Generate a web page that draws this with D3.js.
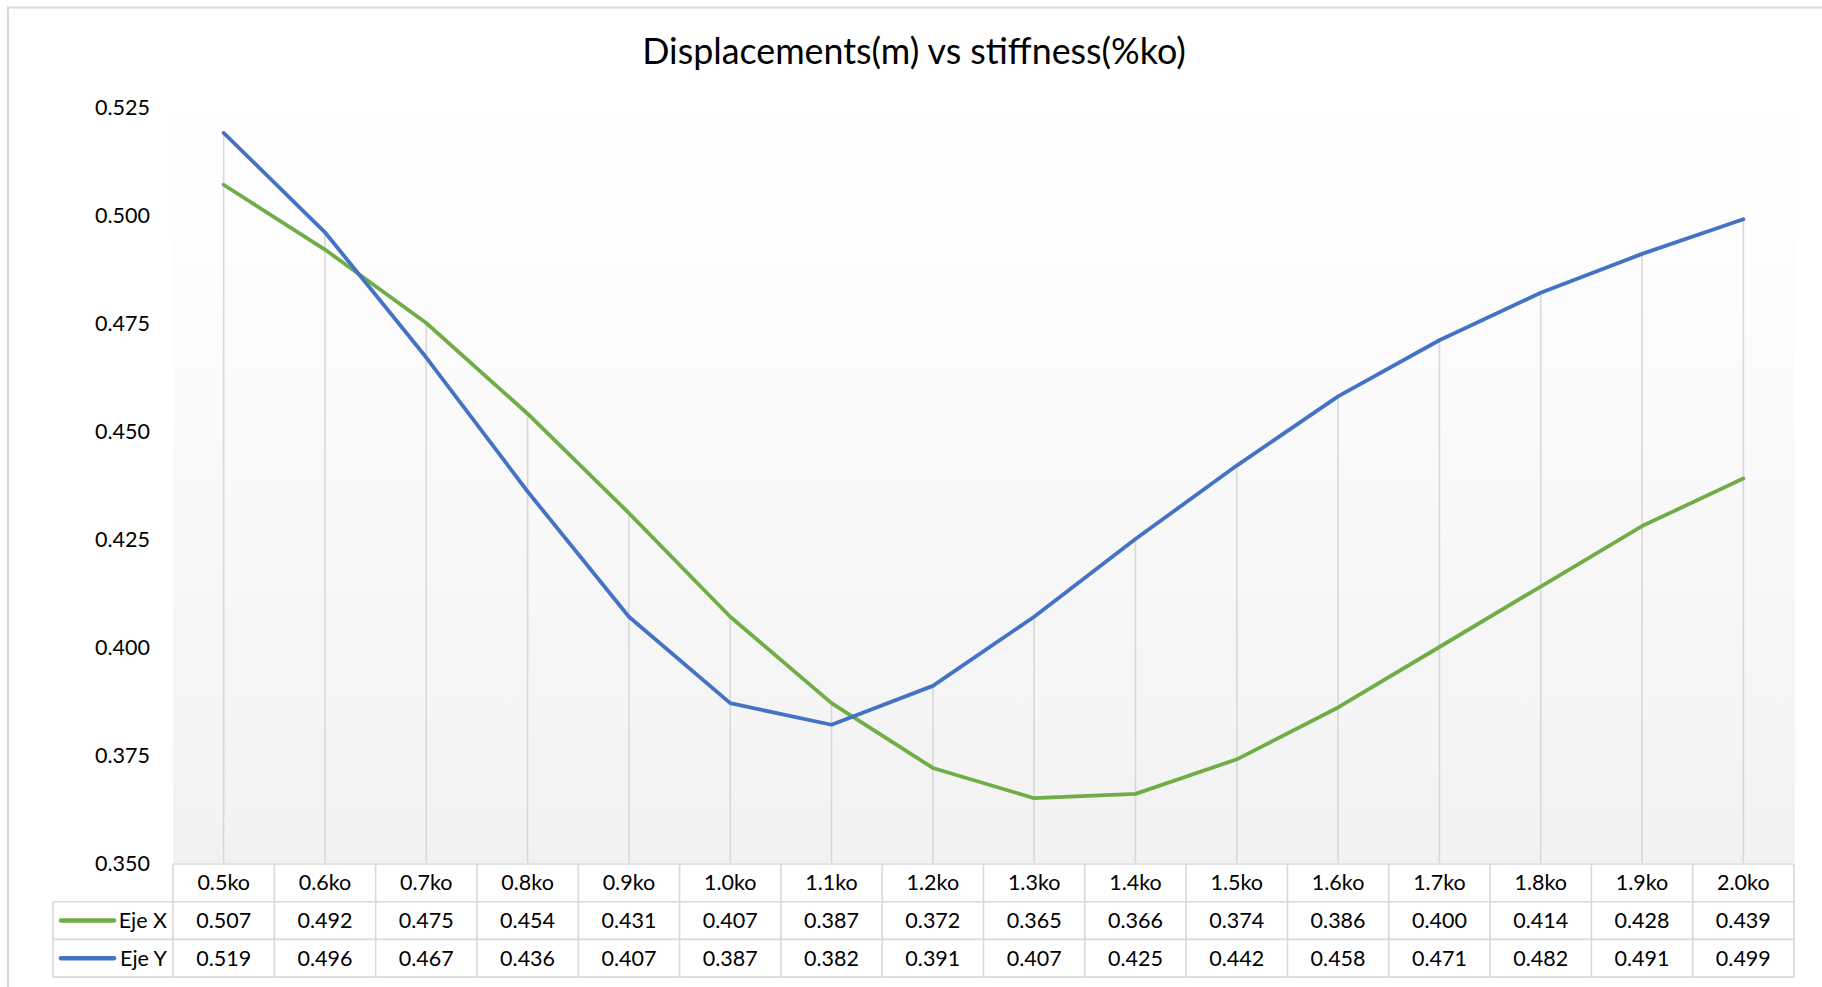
<!DOCTYPE html>
<html>
<head>
<meta charset="utf-8">
<script src="https://cdn.jsdelivr.net/npm/d3@7"></script>
<style>
  html, body { margin: 0; padding: 0; background: #fff; }
  svg { display: block; font-family: Lato, "Open Sans", sans-serif; }
</style>
</head>
<body>
<svg id="chart" width="1822" height="987"></svg>
<script>
const categories = ["0.5ko","0.6ko","0.7ko","0.8ko","0.9ko","1.0ko","1.1ko","1.2ko","1.3ko","1.4ko","1.5ko","1.6ko","1.7ko","1.8ko","1.9ko","2.0ko"];
const ejeX = [0.507,0.492,0.475,0.454,0.431,0.407,0.387,0.372,0.365,0.366,0.374,0.386,0.400,0.414,0.428,0.439];
const ejeY = [0.519,0.496,0.467,0.436,0.407,0.387,0.382,0.391,0.407,0.425,0.442,0.458,0.471,0.482,0.491,0.499];
const yTicks = [0.350,0.375,0.400,0.425,0.450,0.475,0.500,0.525];
const seriesNames = ["Eje X","Eje Y"];
const title = "Displacements(m) vs stiffness(%ko)";

const series = [
  {name: seriesNames[0], values: ejeX, color: "#70ad47"},
  {name: seriesNames[1], values: ejeY, color: "#4472c4"}
];

const svg = d3.select("#chart");
const plotL = 173, plotR = 1794, plotT = 107, plotB = 863;
const legL = 53;
const rowH = 37.7;
const fs = 21.5;
const borderC = "#d9d9d9";

// outer border
svg.append("rect").attr("x", 8).attr("y", 7.5).attr("width", 1830).attr("height", 1000)
  .attr("fill", "#fff").attr("stroke", borderC).attr("stroke-width", 2);

const x = d3.scaleBand().domain(categories).range([plotL, plotR]).padding(0);
const y = d3.scaleLinear().domain([0.35, 0.525]).range([plotB, plotT]);
const cx = d => x(d) + x.bandwidth() / 2;

// plot area gradient
const defs = svg.append("defs");
const grad = defs.append("linearGradient").attr("id", "pg").attr("x1", 0).attr("y1", 0).attr("x2", 0).attr("y2", 1);
grad.append("stop").attr("offset", "0%").attr("stop-color", "#ffffff");
grad.append("stop").attr("offset", "13%").attr("stop-color", "#fefefe");
grad.append("stop").attr("offset", "100%").attr("stop-color", "#f2f2f2");
svg.append("rect").attr("x", plotL).attr("y", plotT).attr("width", plotR - plotL + 1).attr("height", plotB - plotT)
  .attr("fill", "url(#pg)");

// title
svg.append("text").attr("x", 914).attr("y", 64).attr("text-anchor", "middle")
  .attr("font-size", 35.8).attr("fill", "#000").text(title);

// y axis labels
const yAxis = d3.axisLeft(y).tickValues(yTicks).tickFormat(d3.format(".3f")).tickSize(0).tickPadding(0);
const ya = svg.append("g").attr("transform", "translate(150,0)").call(yAxis);
ya.select(".domain").remove();
ya.selectAll("text").attr("font-size", fs).attr("font-family", "Lato, 'Open Sans', sans-serif")
  .attr("fill", "#000").attr("dy", "0.35em");

// drop lines
svg.append("g").selectAll("line").data(categories).join("line")
  .attr("x1", d => cx(d)).attr("x2", d => cx(d))
  .attr("y1", (d, i) => y(Math.max(ejeX[i], ejeY[i])))
  .attr("y2", plotB)
  .attr("stroke", borderC).attr("stroke-width", 1.6);

// lines
const line = d3.line().x((d, i) => cx(categories[i])).y(d => y(d));
svg.append("g").selectAll("path").data(series).join("path")
  .attr("d", s => line(s.values))
  .attr("fill", "none").attr("stroke", s => s.color).attr("stroke-width", 3.8)
  .attr("stroke-linejoin", "round").attr("stroke-linecap", "round");

// data table
const tb = svg.append("g");
const hdrT = plotB + 1;
const r1T = hdrT + rowH, r2T = r1T + rowH, tblB = r2T + rowH;
tb.append("line").attr("x1", plotL).attr("x2", plotR).attr("y1", hdrT).attr("y2", hdrT);
tb.append("line").attr("x1", legL).attr("x2", plotR).attr("y1", r1T).attr("y2", r1T);
tb.append("line").attr("x1", legL).attr("x2", plotR).attr("y1", r2T).attr("y2", r2T);
tb.append("line").attr("x1", legL).attr("x2", plotR).attr("y1", tblB).attr("y2", tblB);
tb.append("line").attr("x1", legL).attr("x2", legL).attr("y1", r1T).attr("y2", tblB);
tb.selectAll("line.v").data(categories.concat(["__end"])).join("line").attr("class", "v")
  .attr("x1", (d, i) => plotL + i * x.bandwidth()).attr("x2", (d, i) => plotL + i * x.bandwidth())
  .attr("y1", hdrT).attr("y2", tblB);
tb.selectAll("line").attr("stroke", borderC).attr("stroke-width", 1.6);

tb.selectAll("text.h").data(categories).join("text").attr("class", "h")
  .attr("x", d => cx(d)).attr("y", hdrT + rowH / 2).attr("dy", "0.35em")
  .attr("text-anchor", "middle").attr("font-size", fs).attr("fill", "#000").text(d => d);

const fmt = d3.format(".3f");
series.forEach((s, si) => {
  const rt = r1T + si * rowH;
  tb.selectAll("text.v" + si).data(s.values).join("text").attr("class", "v" + si)
    .attr("x", (d, i) => cx(categories[i])).attr("y", rt + rowH / 2).attr("dy", "0.35em")
    .attr("text-anchor", "middle").attr("font-size", fs).attr("fill", "#000").text(d => fmt(d));
  tb.append("line").attr("x1", 61).attr("x2", 114).attr("y1", rt + rowH / 2).attr("y2", rt + rowH / 2)
    .attr("stroke", s.color).attr("stroke-width", 4.5).attr("stroke-linecap", "round");
  tb.append("text").attr("x", 167).attr("y", rt + rowH / 2).attr("dy", "0.35em")
    .attr("text-anchor", "end").attr("font-size", fs).attr("fill", "#000").text(s.name);
});
</script>
</body>
</html>
